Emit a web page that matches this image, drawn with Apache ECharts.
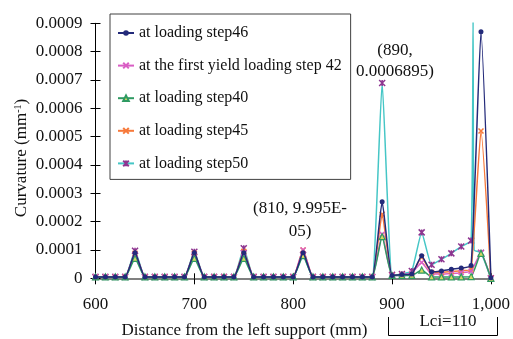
<!DOCTYPE html>
<html>
<head>
<meta charset="utf-8">
<script src="https://cdn.jsdelivr.net/npm/echarts@6/dist/echarts.min.js"></script>
<style>html,body{margin:0;padding:0;background:#fff;}#c{width:513px;height:339px;}</style>
</head>
<body>
<div id="c"></div>
<script>
// Distance from left support (mm)
const distances = [600,610,620,630,640,650,660,670,680,690,700,710,720,730,740,750,760,770,780,790,800,810,820,830,840,850,860,870,880,890,900,910,920,930,940,950,960,970,980,990,1000];
const b = 0.000005;
const step46 = [b,b,b,b,0.00009,b,b,b,b,b,0.00009,b,b,b,b,0.00009,b,b,b,b,b,0.00009,b,b,b,b,b,b,b,0.00027,0.00001,0.000013,0.000015,0.00008,0.000023,0.000026,0.000032,0.000036,0.000045,0.00087,0.000002];
const step42 = [b,b,b,b,0.000085,b,b,b,b,b,0.000085,b,b,b,b,0.00009,b,b,b,b,b,0.00009995,b,b,b,b,b,b,b,0.000155,0.00001,0.000012,0.000018,0.000056,0.000015,0.000015,0.000017,0.00002,0.000025,0.00009,0];
const step40 = [b,b,b,b,0.00007,b,b,b,b,b,0.00007,b,b,b,b,0.00007,b,b,b,b,b,0.00008,b,b,b,b,b,b,b,0.000147,0.00001,0.00001,0.00001,0.000029,0.000005,0.000005,0.000005,0.000005,0.000006,0.000088,0];
const step45 = [b,b,b,b,0.000088,b,b,b,b,b,0.000088,b,b,b,b,0.000095,b,b,b,b,b,0.0001,b,b,b,b,b,b,b,0.000226,0.00001,0.000012,0.000015,0.000074,0.00002,0.00002,0.000024,0.000027,0.000032,0.00052,0];
const step50 = [b,b,b,b,0.000097,b,b,b,b,b,0.000094,b,b,b,b,0.000106,b,b,b,b,b,0.000082,b,b,b,b,b,b,b,0.0006895,0.000012,0.000015,0.000026,0.000162,0.000048,0.000067,0.000088,0.000112,0.000133,0.00009,0];
// extra spike points of step50 between 980 and 990 (no marker)
const step50SpikeX = [982, 983];
const step50SpikeY = [0.00091, 0.0001];
const yTicks = ['0','0.0001','0.0002','0.0003','0.0004','0.0005','0.0006','0.0007','0.0008','0.0009'];

const pairs = (ys) => distances.map((x, i) => [x, ys[i]]);
const s50 = pairs(step50);
const idx980 = distances.indexOf(980);
const spike = step50SpikeX.map((x, i) => ({ value: [x, step50SpikeY[i]], symbol: 'none' }));
const s50data = s50.slice(0, idx980 + 1).concat(spike, s50.slice(idx980 + 1));

const FONT = "'Liberation Serif', 'Times New Roman', serif";
const xMark = 'path://M0,0L10,10M10,0L0,10';
const astMark = 'path://M0,0L10,10M10,0L0,10M5,0L5,10';

const chart = echarts.init(document.getElementById('c'), null, { renderer: 'canvas' });
const common = { type: 'line', smooth: 0.15, xAxisIndex: 0, yAxisIndex: 0, animation: false };
chart.setOption({
  backgroundColor: '#fff',
  animation: false,
  grid: { left: 95.5, right: 18, top: 23.3, bottom: 60.7, containLabel: false },
  xAxis: [
    { type: 'value', min: 600, max: 1000, interval: 100,
      axisLine: { show: true, onZero: false, lineStyle: { color: '#808080', width: 2 } },
      axisTick: { show: true, inside: false, length: 6, lineStyle: { color: '#000', width: 1 } },
      axisLabel: { margin: 18, fontSize: 17, fontFamily: FONT, color: '#111' },
      splitLine: { show: false } },
    { type: 'value', min: 600, max: 1000, interval: 100, position: 'bottom',
      axisLine: { show: false }, axisLabel: { show: false }, splitLine: { show: false },
      axisTick: { show: true, inside: true, length: 5, lineStyle: { color: '#000', width: 1 } } }
  ],
  yAxis: [
    { type: 'value', min: 0, max: 0.0009, interval: 0.0001,
      axisLine: { show: true, onZero: false, lineStyle: { color: '#000', width: 1 } },
      axisTick: { show: true, inside: false, length: 5, lineStyle: { color: '#000', width: 1 } },
      axisLabel: { margin: 13, fontSize: 17, fontFamily: FONT, color: '#111',
        formatter: (v) => yTicks[Math.round(v / 0.0001)] },
      splitLine: { show: false } },
    { type: 'value', min: 0, max: 0.0009, interval: 0.0001, position: 'left',
      axisLine: { show: false }, axisLabel: { show: false }, splitLine: { show: false },
      axisTick: { show: true, inside: true, length: 5, lineStyle: { color: '#000', width: 1 } } }
  ],
  legend: {
    orient: 'vertical', left: 110, top: 14,
    padding: [11, 9, 8, 7], itemGap: 16.6, itemWidth: 16, itemHeight: 7,
    borderColor: '#404040', borderWidth: 1, backgroundColor: '#fff',
    textStyle: { fontSize: 16, fontFamily: FONT, color: '#111' },
    data: ['at loading step46', 'at the first yield loading step 42', 'at loading step40', 'at loading step45', 'at loading step50']
  },
  series: [
    Object.assign({}, common, { name: 'at loading step50', data: s50data, z: 2,
      symbol: astMark, symbolSize: 6,
      lineStyle: { color: '#45c6c6', width: 1.5 },
      itemStyle: { color: '#8e3590', borderColor: '#8e3590', borderWidth: 1.5 } }),
    Object.assign({}, common, { name: 'at loading step45', data: pairs(step45), z: 3,
      symbol: xMark, symbolSize: 5,
      lineStyle: { color: '#f7793a', width: 1.5 },
      itemStyle: { color: '#f7793a', borderColor: '#f7793a', borderWidth: 1.5 } }),
    Object.assign({}, common, { name: 'at the first yield loading step 42', data: pairs(step42), z: 3,
      symbol: xMark, symbolSize: 5,
      lineStyle: { color: '#d95ec4', width: 1.5 },
      itemStyle: { color: '#d95ec4', borderColor: '#d95ec4', borderWidth: 1.5 } }),
    Object.assign({}, common, { name: 'at loading step40', data: pairs(step40), z: 3,
      symbol: 'triangle', symbolSize: 6,
      lineStyle: { color: '#2f9a62', width: 1.5 },
      itemStyle: { color: '#d8d860', borderColor: '#2f9a62', borderWidth: 1.2 } }),
    Object.assign({}, common, { name: 'at loading step46', data: pairs(step46), z: 4,
      symbol: 'circle', symbolSize: 5,
      lineStyle: { color: '#232a7a', width: 1.5 },
      itemStyle: { color: '#232a7a' } })
  ],
  graphic: [
    { type: 'text', x: 395, y: 61, style: { text: '(890,\n0.0006895)', font: '17px ' + FONT, fill: '#111', textAlign: 'center', textVerticalAlign: 'middle', lineHeight: 21 } },
    { type: 'text', x: 300, y: 220, style: { text: '(810, 9.995E-\n05)', font: '17px ' + FONT, fill: '#111', textAlign: 'center', textVerticalAlign: 'middle', lineHeight: 23 } },
    { type: 'text', x: 244.5, y: 331, style: { text: 'Distance from the left support (mm)', font: '17px ' + FONT, fill: '#111', textAlign: 'center', textVerticalAlign: 'middle' } },
    { type: 'text', x: 22, y: 158, rotation: Math.PI / 2,
      style: { text: 'Curvature (mm{sup|-1})', font: '17px ' + FONT, fill: '#111', align: 'center', verticalAlign: 'middle',
        rich: { sup: { fontSize: 10, fontFamily: FONT, verticalAlign: 'top', padding: [0, 0, 7, 0] } } } },
    { type: 'text', x: 448, y: 322, style: { text: 'Lci=110', font: '17px ' + FONT, fill: '#111', textAlign: 'center', textVerticalAlign: 'middle' } },
    { type: 'polyline', shape: { points: [[388.5, 317], [388.5, 335.5], [497.5, 335.5], [497.5, 317]] }, style: { stroke: '#000', lineWidth: 1, fill: null } }
  ]
});
</script>
</body>
</html>
